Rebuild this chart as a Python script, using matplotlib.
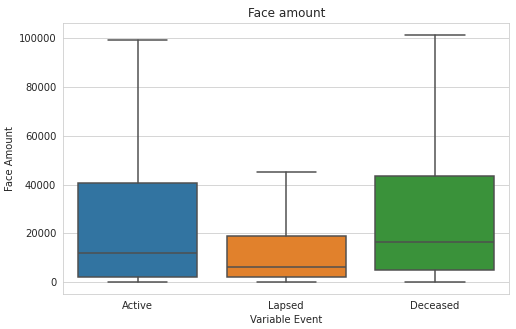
import matplotlib
matplotlib.use("Agg")
import matplotlib.pyplot as plt
import seaborn as sns

categories = ["Active", "Lapsed", "Deceased"]
whis_low = [200, 200, 250]
q1 = [2050, 2050, 4900]
median = [12100, 6400, 16650]
q3 = [40700, 19000, 43700]
whis_high = [99400, 45200, 101500]

colors = ["#3274a1", "#e1812c", "#3a923a"]
line_color = "#4f4f4f"

sns.set_style("whitegrid")
plt.rcParams["font.family"] = ["DejaVu Sans"]

fig = plt.figure(figsize=(516 / 72, 329 / 72), dpi=72)
ax = fig.add_axes([63.3 / 516, 1 - 294 / 329, (509.3 - 63.3) / 516, (294 - 23.3) / 329])

stats = []
for i, cat in enumerate(categories):
    stats.append(dict(label=cat, whislo=whis_low[i], q1=q1[i], med=median[i],
                      q3=q3[i], whishi=whis_high[i]))

bp = ax.bxp(stats, positions=range(len(categories)), widths=0.8, patch_artist=True,
            showfliers=False,
            boxprops=dict(edgecolor=line_color, linewidth=1.5),
            medianprops=dict(color=line_color, linewidth=1.5),
            whiskerprops=dict(color=line_color, linewidth=1.5),
            capprops=dict(color=line_color, linewidth=1.5))
for patch, c in zip(bp["boxes"], colors):
    patch.set_facecolor(c)

ax.set_xlim(-0.5, 2.5)
ax.set_ylim(-4800, 106150)
ax.xaxis.grid(False)
ax.set_axisbelow(True)
ax.tick_params(labelsize=10, colors=".15")
ax.set_title("Face amount", fontsize=12, color=".15")
ax.set_xlabel("Variable Event", fontsize=10, color=".15")
ax.set_ylabel("Face Amount", fontsize=10, color=".15")

fig.savefig("out.png", dpi=72)
